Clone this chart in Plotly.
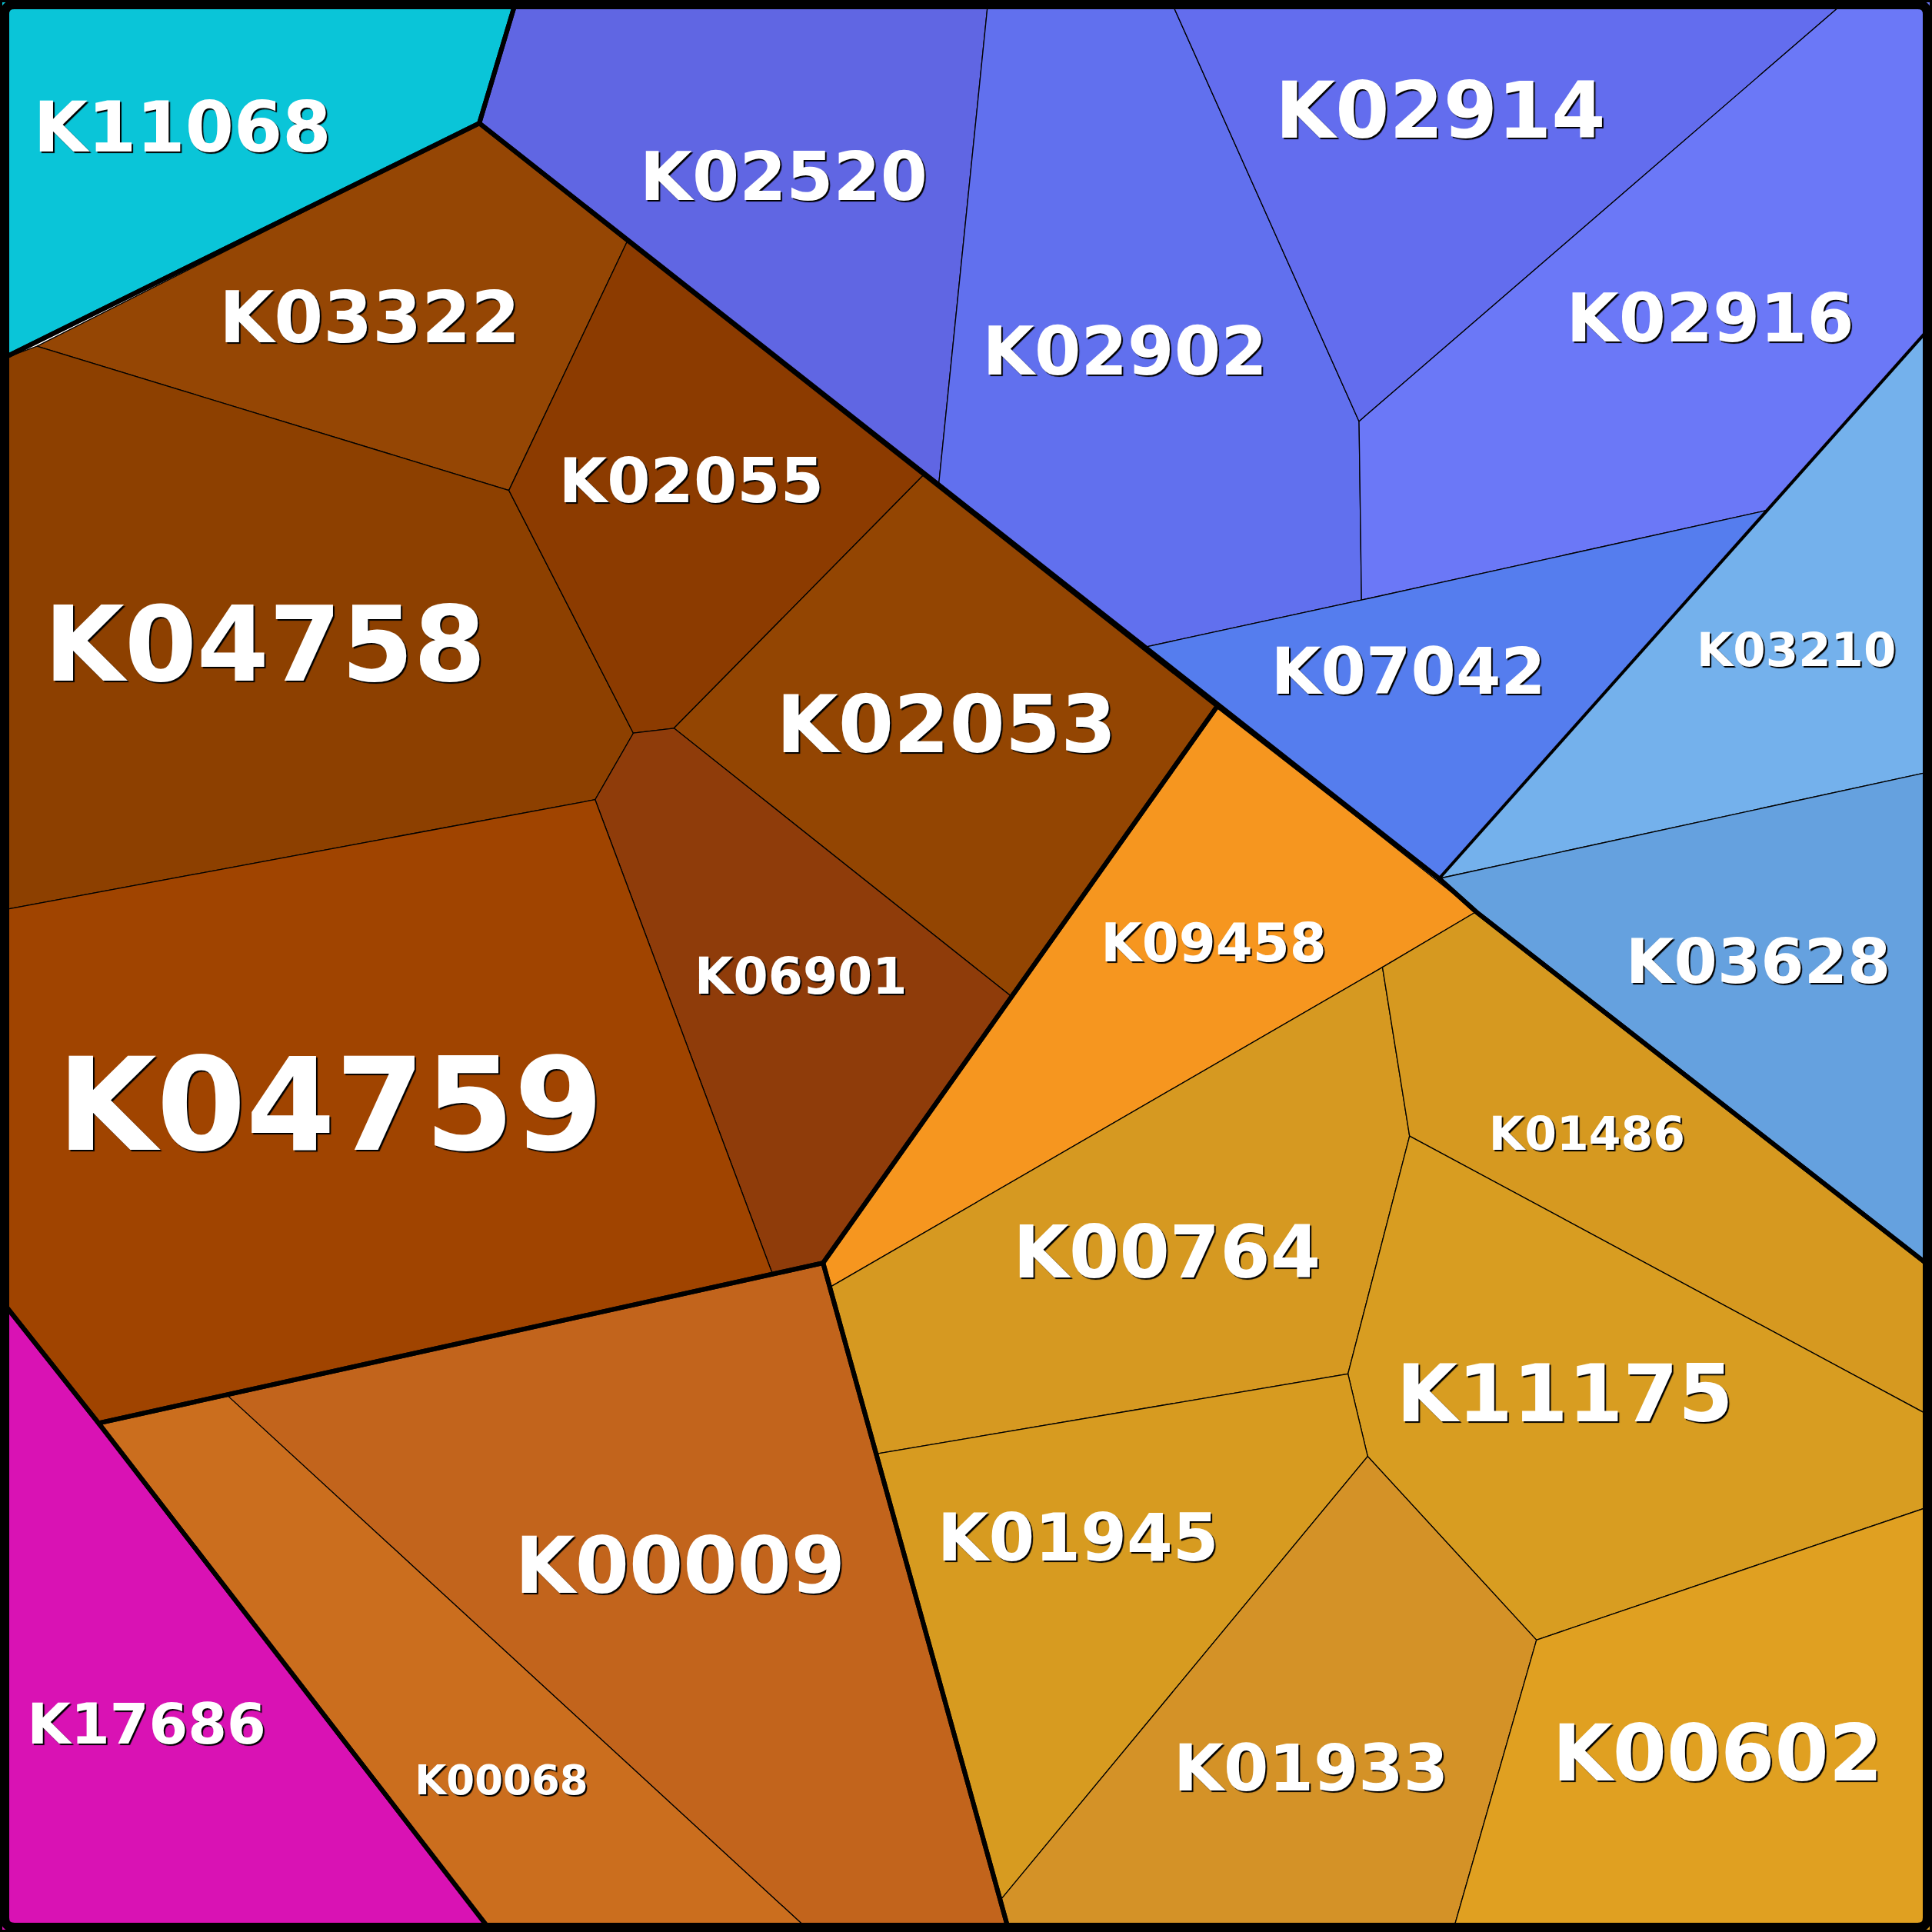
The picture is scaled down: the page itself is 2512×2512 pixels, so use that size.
import plotly.graph_objects as go

# Voronoi treemap cells, vertices (canvas 1568 x 1568, y down)
labels = ["K11068", "K02520", "K02902", "K02914", "K02916", "K07042",
          "K03210", "K03628", "K03322", "K04758", "K02055", "K02053",
          "K06901", "K04759", "K00009", "K00068", "K17686", "K09458",
          "K00764", "K01486", "K11175", "K01945", "K01933", "K00602"]

poly_x = [
    [0, 419, 389, 0],
    [419, 802, 762, 389],
    [802, 950, 1103, 1105, 930, 762],
    [950, 1499, 1103],
    [1499, 1568, 1568, 1435, 1105, 1103],
    [930, 1105, 1435, 1168, 988],
    [1568, 1568, 1168, 1435],
    [1168, 1568, 1568, 1198],
    [30, 389, 509, 413],
    [0, 30, 413, 514, 483, 0],
    [509, 750, 547, 514, 413],
    [750, 988, 820, 547],
    [514, 547, 820, 668, 627, 483],
    [0, 483, 627, 80, 0],
    [185, 668, 819, 658],
    [80, 185, 658, 399],
    [0, 80, 399, 0],
    [988, 1198, 1122, 673, 668],
    [673, 1122, 1144, 1094, 711],
    [1122, 1198, 1568, 1568, 1144],
    [1144, 1568, 1568, 1247, 1110, 1094],
    [711, 1094, 1110, 812],
    [812, 1110, 1247, 1179, 819],
    [1247, 1568, 1568, 1179],
]
poly_y = [
    [0, 0, 100, 292],
    [0, 0, 392, 100],
    [0, 0, 342, 487, 525, 392],
    [0, 0, 342],
    [0, 0, 264, 414, 487, 342],
    [525, 487, 414, 713, 573],
    [264, 626, 713, 414],
    [713, 626, 1029, 740],
    [281, 100, 196, 398],
    [292, 281, 398, 595, 649, 739],
    [196, 385, 591, 595, 398],
    [385, 573, 808, 591],
    [595, 591, 808, 1025, 1034, 649],
    [739, 649, 1034, 1155, 1054],
    [1133, 1025, 1568, 1568],
    [1155, 1133, 1568, 1568],
    [1054, 1155, 1568, 1568],
    [573, 740, 785, 1045, 1025],
    [1045, 785, 922, 1115, 1180],
    [785, 740, 1029, 1150, 922],
    [922, 1150, 1222, 1331, 1182, 1115],
    [1180, 1115, 1182, 1542],
    [1542, 1182, 1331, 1568, 1568],
    [1331, 1222, 1568, 1568],
]

# generating sites of the cells (where the labels sit)
site_x = [148, 636, 913, 1169, 1388, 1143, 1458, 1427, 300, 215, 561, 768,
          650, 268, 552, 407, 119, 985, 947, 1288, 1270, 875, 1064, 1394]
site_y = [103, 143, 285, 90, 258, 545, 527, 780, 258, 523, 390, 588,
          792, 897, 1271, 1445, 1399, 765, 1016, 920, 1131, 1248, 1435, 1423]

colors = ["#0AC5D8", "#6066E3", "#6170EE", "#636DEE", "#6B78F7", "#557DEE",
          "#74B1EC", "#65A1DF", "#954604", "#8D4000", "#8C3B00", "#934502",
          "#8F3C0A", "#A04400", "#C2641C", "#CB6E1E", "#D912B4", "#F6961F",
          "#D69921", "#D69920", "#D89D21", "#D79B20", "#D49227", "#E0A021"]

# label font sizes (px)
label_sizes = [91, 88, 87, 101, 88, 84, 61, 81, 92, 135, 81, 104,
               65, 167, 101, 53, 73, 69, 94, 60, 103, 86, 84, 101]

# top-level group outlines
group_x = [
    [0, 419, 389, 0],
    [419, 1568, 1568, 1198, 1168, 389],
    [0, 389, 988, 668, 80, 0],
    [988, 1168, 1198, 1568, 1568, 819, 668],
    [80, 668, 819, 399],
    [0, 80, 399, 0],
]
group_y = [
    [0, 0, 100, 292],
    [0, 0, 1029, 740, 713, 100],
    [292, 100, 573, 1025, 1155, 1054],
    [573, 713, 740, 1029, 1568, 1568, 1025],
    [1155, 1025, 1568, 1568],
    [1054, 1155, 1568, 1568],
]

# second-level outline (blue / light blue split)
sub_x = [[1568, 1168]]
sub_y = [[264, 713]]

fig = go.Figure()

for name, xs, ys, col in zip(labels, poly_x, poly_y, colors):
    fig.add_trace(go.Scatter(
        x=xs + [xs[0]], y=ys + [ys[0]], mode="lines", fill="toself",
        fillcolor=col, line=dict(color="black", width=1.3),
        hoverinfo="text", text=name, showlegend=False,
    ))

for xs, ys in zip(sub_x, sub_y):
    fig.add_trace(go.Scatter(x=xs, y=ys, mode="lines",
                             line=dict(color="black", width=4),
                             hoverinfo="skip", showlegend=False))

for xs, ys in zip(group_x, group_y):
    fig.add_trace(go.Scatter(x=xs + [xs[0]], y=ys + [ys[0]], mode="lines",
                             line=dict(color="black", width=6),
                             hoverinfo="skip", showlegend=False))

# plotly's "middle" anchor sits a bit above the glyph centre; nudge down
label_y = [y + 0.062 * s for y, s in zip(site_y, label_sizes)]

fig.add_trace(go.Scatter(
    x=site_x, y=label_y, mode="text",
    text=labels, textposition="middle center",
    textfont=dict(family="DejaVu Sans", weight="bold", color="white",
                  size=label_sizes, shadow="2px 2px 1px #000"),
    hoverinfo="skip", showlegend=False,
))

# outer frame with rounded corners
e = 3.75
r = 8
lo, hi = e, 1568 - e
frame = (f"M {lo + r},{lo} L {hi - r},{lo} Q {hi},{lo} {hi},{lo + r} "
         f"L {hi},{hi - r} Q {hi},{hi} {hi - r},{hi} "
         f"L {lo + r},{hi} Q {lo},{hi} {lo},{hi - r} "
         f"L {lo},{lo + r} Q {lo},{lo} {lo + r},{lo} Z")
fig.add_shape(type="path", path=frame, xref="x", yref="y",
              line=dict(color="black", width=12))

fig.update_layout(
    width=2512, height=2512,
    margin=dict(l=0, r=0, t=0, b=0),
    paper_bgcolor="white", plot_bgcolor="white",
    xaxis=dict(range=[0, 1568], visible=False, fixedrange=True),
    yaxis=dict(range=[1568, 0], visible=False, fixedrange=True),
)

fig.write_html(
    "out.html",
    config={"displayModeBar": False},
    post_script="document.body.style.margin='0';document.body.style.overflow='hidden';",
)
